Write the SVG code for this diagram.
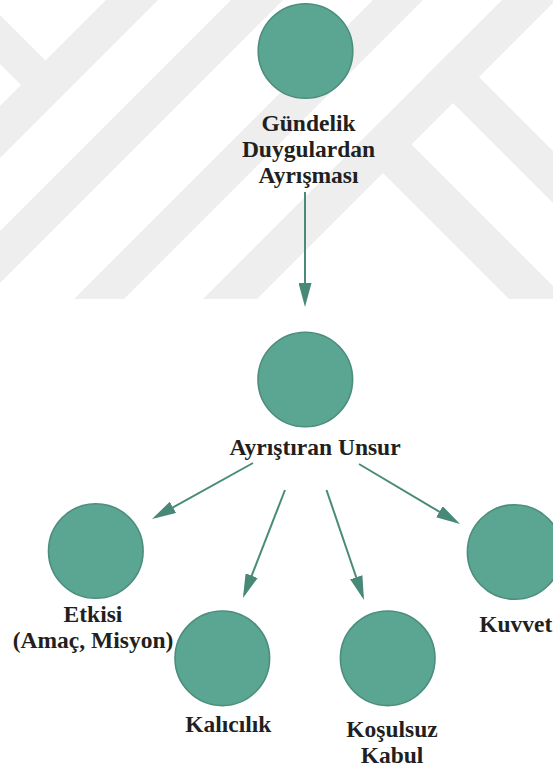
<svg xmlns="http://www.w3.org/2000/svg" width="553" height="769" viewBox="0 0 553 769">
  <style>
    .wm { fill: #eeeeee; }
    .node circle { fill: #5ba593; stroke: #4c8d7c; stroke-width: 1.6; }
    .node text { font-family: "Liberation Serif", "Times New Roman", serif; font-weight: bold; font-size: 23.5px; fill: #231f20; text-anchor: middle; }
    .edge { stroke: #4a8a7a; stroke-width: 2; fill: none; marker-end: url(#arrow); }
  </style>
  <defs>
    <marker id="arrow" viewBox="0 0 24 13" refX="20" refY="6.5" markerWidth="24" markerHeight="13" markerUnits="userSpaceOnUse" orient="auto">
      <path d="M0,0 L24,6.5 L0,13 z" fill="#478877"/>
    </marker>
    <clipPath id="wmclip"><rect x="0" y="0" width="553" height="299"/></clipPath>
  </defs>
  <rect width="553" height="769" fill="#ffffff"/>
  <g id="watermark" clip-path="url(#wmclip)">
    <polygon class="wm" points="106,0 158,0 -141,299 -193,299"/>
    <polygon class="wm" points="231,0 283,0 -16,299 -68,299"/>
    <polygon class="wm" points="373,0 423,0 124,299 74,299"/>
    <polygon class="wm" points="502,0 556,0 257,299 203,299"/>
    <polygon class="wm" points="356,146 384.5,117.5 566,299 509,299"/>
    <polygon class="wm" points="426,76 452,50 701,299 649,299"/>
    <polygon class="wm" points="-20,-5 57.5,72.5 33,97 -20,44"/>
  </g>
  <g id="connectors">
    <line class="edge" x1="305" y1="192" x2="305" y2="303"/>
    <line class="edge" x1="253" y1="463" x2="155.5" y2="517.1"/>
    <line class="edge" x1="285" y1="490" x2="244.4" y2="594.3"/>
    <line class="edge" x1="326.5" y1="490" x2="362.7" y2="596.2"/>
    <line class="edge" x1="359" y1="464" x2="456.6" y2="522"/>
  </g>
  <g id="node-gundelik" class="node">
    <circle cx="305.5" cy="51" r="47.3"/>
    <text x="308.5" y="131">Gündelik</text>
    <text x="308.5" y="157">Duygulardan</text>
    <text x="308.5" y="183">Ayrışması</text>
  </g>
  <g id="node-ayristiran" class="node">
    <circle cx="305.3" cy="379.5" r="47.3"/>
    <text x="315" y="455">Ayrıştıran Unsur</text>
  </g>
  <g id="node-etkisi" class="node">
    <circle cx="95.8" cy="551" r="47.3"/>
    <text x="93" y="621.7">Etkisi</text>
    <text x="93" y="648">(Amaç, Misyon)</text>
  </g>
  <g id="node-kalicilik" class="node">
    <circle cx="222.3" cy="658.3" r="47.3"/>
    <text x="228.3" y="731.7">Kalıcılık</text>
  </g>
  <g id="node-kosulsuz" class="node">
    <circle cx="387.7" cy="658.3" r="47.3"/>
    <text x="392" y="736.7">Koşulsuz</text>
    <text x="392" y="762.7">Kabul</text>
  </g>
  <g id="node-kuvvet" class="node">
    <circle cx="514.7" cy="552" r="47.3"/>
    <text x="515.8" y="631.7">Kuvvet</text>
  </g>
</svg>
